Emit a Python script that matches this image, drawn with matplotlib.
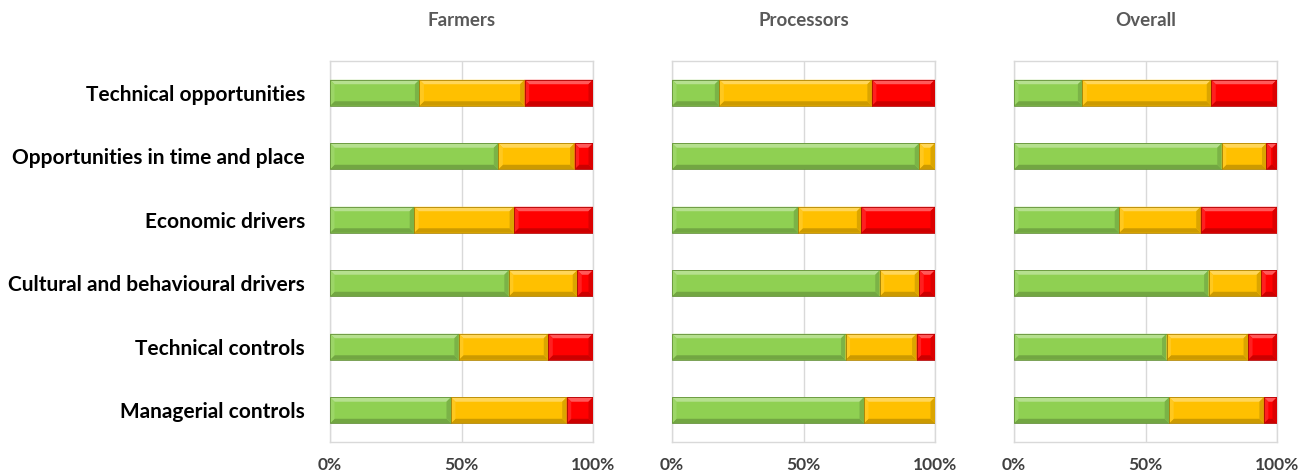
import matplotlib
matplotlib.use("Agg")
import matplotlib.pyplot as plt
from matplotlib.patches import Polygon
import matplotlib.colors as mcolors
import numpy as np

plt.rcParams['font.family'] = ['Lato', 'DejaVu Sans']

categories = [
    "Technical opportunities",
    "Opportunities in time and place",
    "Economic drivers",
    "Cultural and behavioural drivers",
    "Technical controls",
    "Managerial controls",
]
panels = ["Farmers", "Processors", "Overall"]

# Share of responses per category (%): green / yellow / red
farmers_green = [34, 64, 32, 68, 49, 46]
farmers_yellow = [40, 29, 38, 26, 34, 44]
farmers_red = [26, 7, 30, 6, 17, 10]

processors_green = [18, 94, 48, 79, 66, 73]
processors_yellow = [58, 6, 24, 15, 27, 27]
processors_red = [24, 0, 28, 6, 7, 0]

overall_green = [26, 79, 40, 74, 58, 59]
overall_yellow = [49, 17, 31, 20, 31, 36]
overall_red = [25, 4, 29, 6, 11, 5]

tick_values = [0, 50, 100]
tick_labels = ["0%", "50%", "100%"]

series = {
    "Farmers": (farmers_green, farmers_yellow, farmers_red),
    "Processors": (processors_green, processors_yellow, processors_red),
    "Overall": (overall_green, overall_yellow, overall_red),
}
colors = ["#8fd052", "#ffc000", "#ff0000"]

W, H = 1307, 473
fig = plt.figure(figsize=(W / 100, H / 100), dpi=100)

lefts_px = [330, 672, 1014]
ax_w_px = 263
top_px, bot_px = 61, 442

bar_h = 0.41


def shade(c, f):
    r, g, b = mcolors.to_rgb(c)
    if f >= 0:
        return (r + (1 - r) * f, g + (1 - g) * f, b + (1 - b) * f)
    f = -f
    return (r * (1 - f), g * (1 - f), b * (1 - f))


def bevel_bar(ax, left, width, y, h, color, dx, dy):
    """Draw one bar segment with a bevelled (raised) look.

    The y axis is inverted, so y - h/2 is the visual top edge.
    """
    if width <= 0:
        return
    ax.barh(y, width, left=left, height=h, color=color, edgecolor="none", zorder=3)
    dxe = min(dx, width / 2.0)
    x0, x1 = left, left + width
    yt, yb = y - h / 2, y + h / 2
    top = Polygon([(x0, yt), (x1, yt), (x1 - dxe, yt + dy), (x0 + dxe, yt + dy)],
                  closed=True, facecolor=shade(color, 0.35), edgecolor="none", zorder=4)
    bottom = Polygon([(x0, yb), (x1, yb), (x1 - dxe, yb - dy), (x0 + dxe, yb - dy)],
                     closed=True, facecolor=shade(color, -0.2), edgecolor="none", zorder=4)
    lft = Polygon([(x0, yt), (x0, yb), (x0 + dxe, yb - dy), (x0 + dxe, yt + dy)],
                  closed=True, facecolor=shade(color, 0.12), edgecolor="none", zorder=4)
    rgt = Polygon([(x1, yt), (x1, yb), (x1 - dxe, yb - dy), (x1 - dxe, yt + dy)],
                  closed=True, facecolor=shade(color, -0.14), edgecolor="none", zorder=4)
    for p in (top, bottom, lft, rgt):
        ax.add_patch(p)
    ax.barh(y, width, left=left, height=h, color="none", edgecolor=shade(color, -0.3),
            linewidth=0.6, zorder=5)


ypos = np.arange(len(categories))
for i, name in enumerate(panels):
    ax = fig.add_axes([lefts_px[i] / W, (H - bot_px) / H, ax_w_px / W, (bot_px - top_px) / H])
    g, yv, r = series[name]
    dx = 4.5 / (ax_w_px / 100.0)
    dy = 4.5 / ((bot_px - top_px) / len(categories))
    for k in range(len(categories)):
        left = 0
        for vals, c in zip((g, yv, r), colors):
            bevel_bar(ax, left, vals[k], ypos[k], bar_h, c, dx, dy)
            left += vals[k]
    ax.set_xlim(0, 100)
    ax.set_ylim(len(categories) - 0.5, -0.5)
    ax.set_xticks(tick_values)
    ax.set_xticklabels(tick_labels, fontsize=12.5, fontweight="bold", color="#404040")
    ax.tick_params(axis="x", length=0, pad=11)
    ax.grid(axis="x", color="#d9d9d9", linewidth=1.0, zorder=0)
    for s in ax.spines.values():
        s.set_color("#d9d9d9")
        s.set_linewidth(1.0)
    ax.set_title(name, fontsize=13.5, fontweight="bold", color="#595959", pad=25)
    if i == 0:
        ax.set_yticks(ypos)
        ax.set_yticklabels(categories, fontsize=15, fontweight="bold", color="black")
        ax.tick_params(axis="y", length=0, pad=18)
    else:
        ax.set_yticks([])

fig.savefig("out.png", dpi=100)
